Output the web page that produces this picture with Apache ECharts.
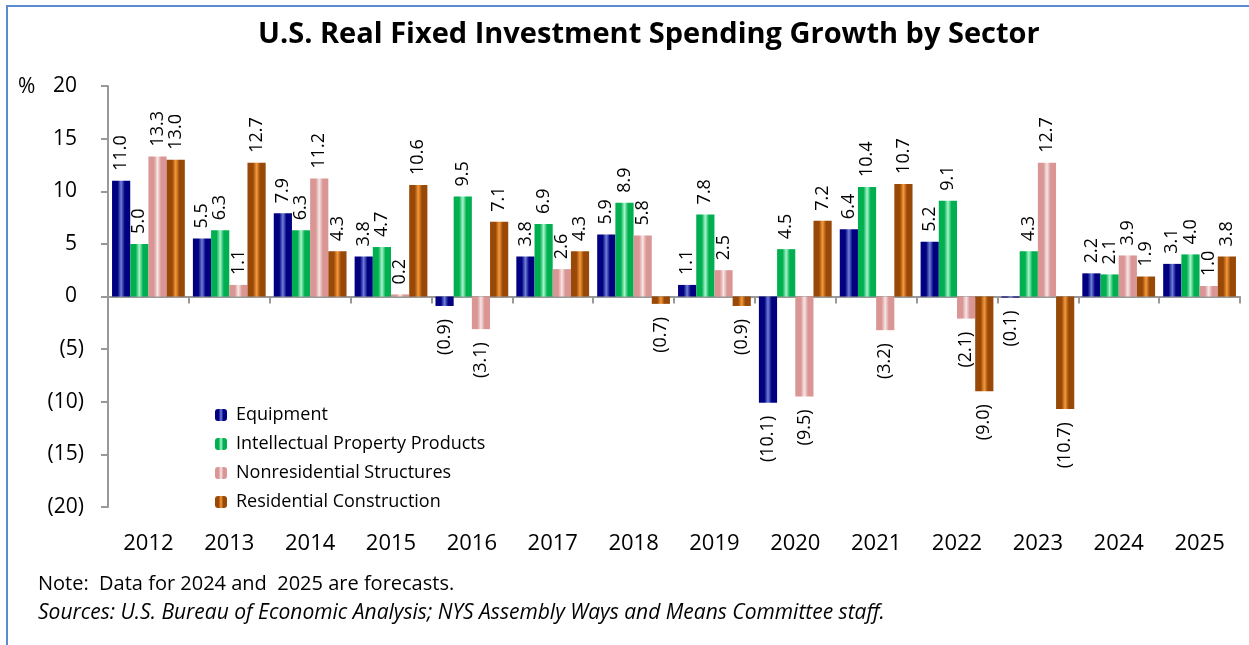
<!DOCTYPE html>
<html>
<head>
<meta charset="utf-8">
<script src="https://cdn.jsdelivr.net/npm/echarts@6/dist/echarts.min.js"></script>
<style>
  html, body { margin: 0; padding: 0; background: #fff; }
  #chart { width: 1249px; height: 645px; }
</style>
</head>
<body>
<div id="chart"></div>
<script>
const years = ['2012', '2013', '2014', '2015', '2016', '2017', '2018', '2019', '2020', '2021', '2022', '2023', '2024', '2025']
const equipment = [11.0, 5.5, 7.9, 3.8, -0.9, 3.8, 5.9, 1.1, -10.1, 6.4, 5.2, -0.1, 2.2, 3.1]
const intellectual = [5.0, 6.3, 6.3, 4.7, 9.5, 6.9, 8.9, 7.8, 4.5, 10.4, 9.1, 4.3, 2.1, 4.0]
const nonresidential = [13.3, 1.1, 11.2, 0.2, -3.1, 2.6, 5.8, 2.5, -9.5, -3.2, -2.1, 12.7, 3.9, 1.0]
const residential = [13.0, 12.7, 4.3, 10.6, 7.1, 4.3, -0.7, -0.9, 7.2, 10.7, -9.0, -10.7, 1.9, 3.8]

const FONT = '"Open Sans", "Noto Sans", sans-serif'

function fmt(v, digits) {
  const s = Math.abs(v).toFixed(digits)
  return v < 0 ? '(' + s + ')' : s
}

// dark edges, light stripe in the middle, like the Excel fill
function barFill(edge, mid) {
  return new echarts.graphic.LinearGradient(0, 0, 1, 0, [
    { offset: 0, color: edge },
    { offset: 0.3, color: edge },
    { offset: 0.5, color: mid },
    { offset: 0.7, color: edge },
    { offset: 1, color: edge }
  ])
}

function makeSeries(name, values, edge, mid) {
  return {
    name: name,
    type: 'bar',
    xAxisIndex: 0,
    barGap: '0%',
    barCategoryGap: '10%',
    itemStyle: { color: barFill(edge, mid) },
    data: values.map(v => ({
      value: v,
      label: v < 0
        ? { position: 'bottom', align: 'right', distance: 13 }
        : { position: 'top', align: 'left', distance: 10 }
    })),
    label: {
      show: true,
      rotate: 90,
      verticalAlign: 'middle',
      fontFamily: FONT,
      fontSize: 18,
      color: '#000',
      formatter: p => fmt(p.value, 1)
    }
  }
}

const chart = echarts.init(document.getElementById('chart'))
chart.setOption({
  animation: false,
  backgroundColor: '#fff',
  title: {
    text: 'U.S. Real Fixed Investment Spending Growth by Sector',
    left: 258,
    top: 20,
    padding: 0,
    textStyle: { fontFamily: FONT, fontSize: 29, fontWeight: 'bold', color: '#000' }
  },
  grid: { left: 108, right: 9, top: 86, bottom: 138 },
  legend: {
    orient: 'vertical',
    left: 215,
    top: 406,
    padding: 0,
    itemWidth: 12,
    itemHeight: 12,
    itemGap: 11,
    textStyle: { fontFamily: FONT, fontSize: 18, color: '#000', padding: [0, 0, 0, 4] },
    data: ['Equipment', 'Intellectual Property Products', 'Nonresidential Structures', 'Residential Construction']
  },
  xAxis: [
    {
      type: 'category',
      data: years,
      axisLine: { onZero: true, lineStyle: { color: '#999', width: 2 } },
      axisTick: { show: true, inside: false, length: 7, lineStyle: { color: '#999', width: 2 } },
      axisLabel: { show: false }
    },
    {
      type: 'category',
      data: years,
      position: 'bottom',
      axisLine: { show: false, onZero: false },
      axisTick: { show: false },
      axisLabel: { fontFamily: FONT, fontSize: 22, color: '#000', margin: 26 }
    }
  ],
  yAxis: {
    type: 'value',
    min: -20,
    max: 20,
    interval: 5,
    splitLine: { show: false },
    axisLine: { show: true, lineStyle: { color: '#999', width: 2 } },
    axisTick: { show: true, length: 7, lineStyle: { color: '#999', width: 2 } },
    axisLabel: {
      fontFamily: FONT,
      fontSize: 21,
      color: '#000',
      margin: 24,
      // positive numbers keep room for the ")" like the Excel number format
      formatter: v => v < 0 ? fmt(v, 0) : '{p|' + v + '}',
      rich: { p: { fontFamily: FONT, fontSize: 21, color: '#000', padding: [0, 7, 0, 0] } }
    }
  },
  graphic: [
    {
      type: 'rect',
      shape: { x: 7, y: 6, width: 1260, height: 660 },
      style: { fill: null, stroke: '#5b8bd0', lineWidth: 2 },
      silent: true
    },
    {
      type: 'text',
      left: 18,
      top: 77,
      style: { text: '%', fontFamily: FONT, fontSize: 21, fill: '#000' }
    },
    {
      type: 'text',
      left: 38,
      top: 574,
      style: { text: 'Note:  Data for 2024 and  2025 are forecasts.', fontFamily: FONT, fontSize: 20, fill: '#000' }
    },
    {
      type: 'text',
      left: 38,
      top: 603,
      style: {
        text: 'Sources: U.S. Bureau of Economic Analysis; NYS Assembly Ways and Means Committee staff.',
        fontFamily: FONT, fontSize: 21, fontStyle: 'italic', fill: '#000'
      }
    }
  ],
  series: [
    makeSeries('Equipment', equipment, '#000080', '#6f80d8'),
    makeSeries('Intellectual Property Products', intellectual, '#00b050', '#a8f5cc'),
    makeSeries('Nonresidential Structures', nonresidential, '#d99694', '#f7e6e6'),
    makeSeries('Residential Construction', residential, '#984807', '#f59a3a')
  ]
})
</script>
</body>
</html>
